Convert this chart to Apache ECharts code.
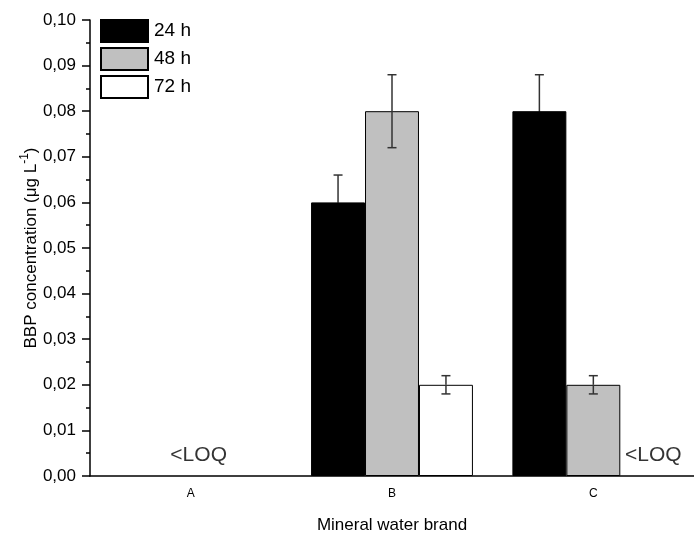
<!DOCTYPE html>
<html><head><meta charset="utf-8">
<script src="https://cdn.jsdelivr.net/npm/echarts@6/dist/echarts.min.js"></script>
<style>html,body{margin:0;padding:0;background:#fff}#c{width:694px;height:541px}</style>
</head><body><div id="c"></div>
<script>
const categories = ['A', 'B', 'C'];
const seriesNames = ['24 h', '48 h', '72 h'];
const values24 = ['-', 0.06, 0.08];
const values48 = ['-', 0.08, 0.02];
const values72 = ['-', 0.02, '-'];
const err24 = [null, 0.006, 0.008];
const err48 = [null, 0.008, 0.002];
const err72 = [null, 0.002, null];
const loqLabels = [['A', 0.0045, 8], ['C', 0.0045, 60]];
const yTicks = [0, 0.1, 0.01];

const FONT = 'Liberation Sans, Arial, sans-serif';
const BAR_FRAC = 0.268;
const chart = echarts.init(document.getElementById('c'));

function errData(vals, errs, offset) {
  const out = [];
  vals.forEach((v, i) => { if (errs[i] != null) out.push([i, v - errs[i], v + errs[i], offset, v]); });
  return out;
}
const allErr = [].concat(errData(values24, err24, -1), errData(values48, err48, 0), errData(values72, err72, 1));

function barSeries(name, data, color) {
  return { name, type: 'bar', data, barWidth: (BAR_FRAC * 100) + '%', barGap: '0%',
    itemStyle: { color, borderColor: '#000', borderWidth: 1 }, z: 2 };
}

chart.setOption({
  animation: false,
  textStyle: { fontFamily: FONT, color: '#000' },
  grid: { left: 90, top: 20, bottom: 65, right: -6, containLabel: false },
  legend: {
    orient: 'vertical', left: 100, top: 19, padding: 0, itemWidth: 47, itemHeight: 22, itemGap: 4,
    icon: 'rect',
    textStyle: { fontSize: 19, fontFamily: FONT, color: '#000', padding: [0, 0, 0, 1] },
    data: seriesNames
  },
  xAxis: {
    type: 'category', data: categories,
    axisLine: { lineStyle: { color: '#000', width: 1.5 } },
    axisTick: { alignWithLabel: true, length: 8, lineStyle: { color: '#000', width: 1.5 } },
    axisLabel: { fontSize: 12, color: '#000', margin: 12, fontFamily: FONT },
    name: 'Mineral water brand', nameLocation: 'middle', nameGap: 41,
    nameTextStyle: { fontSize: 17, color: '#000', fontFamily: FONT }
  },
  yAxis: {
    type: 'value', min: yTicks[0], max: yTicks[1], interval: yTicks[2],
    splitLine: { show: false },
    axisLine: { show: true, lineStyle: { color: '#000', width: 1.5 } },
    axisTick: { show: true, length: 8, lineStyle: { color: '#000', width: 1.5 } },
    minorTick: { show: true, splitNumber: 2, length: 4, lineStyle: { color: '#000', width: 1.5 } },
    axisLabel: { fontSize: 17, color: '#000', margin: 14, fontFamily: FONT,
      formatter: v => v.toFixed(2).replace('.', ',') },
    name: 'BBP concentration (μg L{sup|-1})', nameLocation: 'middle', nameGap: 47,
    nameMoveOverlap: false,
    nameTextStyle: { fontSize: 17, color: '#000', fontFamily: FONT, lineHeight: 24,
      rich: { sup: { fontSize: 12, verticalAlign: 'top', lineHeight: 24, fontFamily: FONT, color: '#000' } } }
  },
  series: [
    barSeries(seriesNames[0], values24, '#000000'),
    barSeries(seriesNames[1], values48, '#c0c0c0'),
    barSeries(seriesNames[2], values72, '#ffffff'),
    {
      type: 'custom', z: 5, silent: true,
      data: allErr,
      renderItem: function (params, api) {
        const cat = api.value(0), lo = api.value(1), hi = api.value(2), off = api.value(3), mid = api.value(4);
        const band = api.size([1, 0])[0];
        const pLo = api.coord([cat, lo]), pHi = api.coord([cat, hi]), pMid = api.coord([cat, mid]);
        const x = pLo[0] + off * band * BAR_FRAC;
        const cap = 4.5;
        const style = { stroke: '#333', lineWidth: 1.5 };
        const lowStyle = { stroke: off === -1 ? '#000' : '#333', lineWidth: 1.5 };
        return { type: 'group', children: [
          { type: 'line', shape: { x1: x, y1: pMid[1], x2: x, y2: pHi[1] }, style },
          { type: 'line', shape: { x1: x, y1: pLo[1], x2: x, y2: pMid[1] }, style: lowStyle },
          { type: 'line', shape: { x1: x - cap, y1: pLo[1], x2: x + cap, y2: pLo[1] }, style: lowStyle },
          { type: 'line', shape: { x1: x - cap, y1: pHi[1], x2: x + cap, y2: pHi[1] }, style }
        ]};
      }
    },
    {
      type: 'scatter', symbolSize: 0, silent: true, z: 6,
      data: loqLabels.map(d => ({ value: [d[0], d[1]], label: { offset: [d[2], 0] } })),
      label: { show: true, position: 'inside', formatter: '<LOQ', fontSize: 21, color: '#000', fontFamily: FONT }
    }
  ]
});
</script></body></html>
